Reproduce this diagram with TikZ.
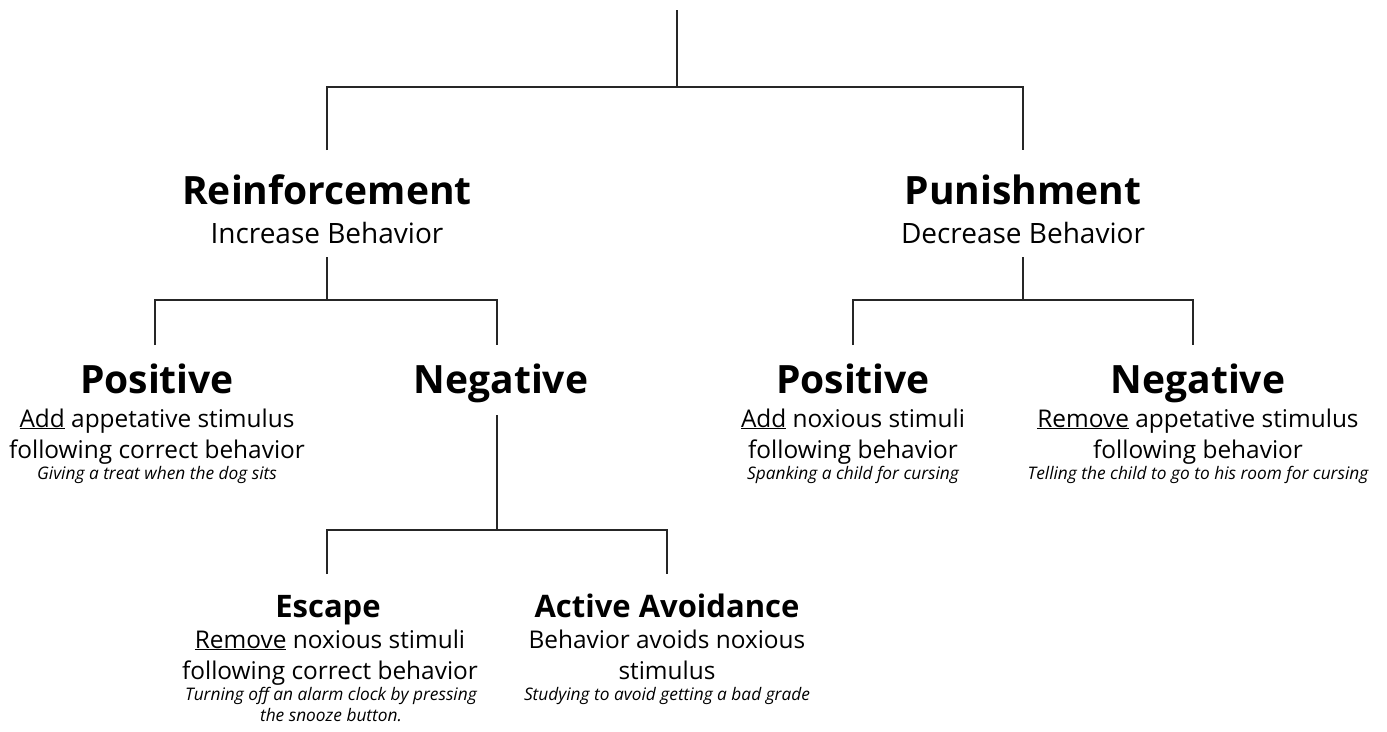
\documentclass[tikz,border=0pt]{standalone}
\usepackage{fontspec}
\setmainfont{Open Sans}
\newcommand{\fsz}[1]{\fontsize{#1}{#1}\selectfont}
\tikzset{
  conn/.style={draw=black!85, line width=2pt},
  ttl/.style={anchor=base, inner sep=0pt, font=\fsz{39}\bfseries},
  subttl/.style={anchor=base, inner sep=0pt, font=\fsz{31}\bfseries},
  sub/.style={anchor=base, inner sep=0pt, font=\fsz{28}},
  txt/.style={anchor=base, inner sep=0pt, font=\fsz{24.4}},
  ex/.style={anchor=base, inner sep=0pt, font=\fsz{17.3}\itshape}
}
\begin{document}
\begin{tikzpicture}[x=1pt,y=-1pt]
\useasboundingbox (0,0) rectangle (1387,731);
% top level
\coordinate (top) at (677,10);
\coordinate (j0) at (677,87);
\coordinate (j0l) at (327,87);
\coordinate (j0r) at (1023,87);
\coordinate (reinIn) at (327,150);
\coordinate (punIn) at (1023,150);
\node[ttl] (rein) at (327,204) {Reinforcement};
\node[sub] (reinSub) at (327,243) {Increase Behavior};
\node[ttl] (pun) at (1023,204) {Punishment};
\node[sub] (punSub) at (1023,243) {Decrease Behavior};
\draw[conn] (top) -- (j0);
\draw[conn] (reinIn) -- (j0l) -- (j0r) -- (punIn);
% reinforcement branch
\coordinate (reinOut) at (327,257);
\coordinate (j1) at (327,300);
\coordinate (j1l) at (155,300);
\coordinate (j1r) at (497,300);
\coordinate (rposIn) at (155,345);
\coordinate (rnegIn) at (497,345);
\draw[conn] (reinOut) -- (j1);
\draw[conn] (rposIn) -- (j1l) -- (j1r) -- (rnegIn);
\node[ttl] (rpos) at (157,393) {Positive};
\node[txt] (rpos1) at (157,427) {\underline{Add} appetative stimulus};
\node[txt] (rpos2) at (157,458) {following correct behavior};
\node[ex] (rpos3) at (157,479) {Giving a treat when the dog sits};
\node[ttl] (rneg) at (501,393) {Negative};
% negative reinforcement branch
\coordinate (rnegOut) at (497,415);
\coordinate (j2) at (497,530);
\coordinate (j2l) at (327,530);
\coordinate (j2r) at (667,530);
\coordinate (escIn) at (327,574);
\coordinate (avIn) at (667,574);
\draw[conn] (rnegOut) -- (j2);
\draw[conn] (escIn) -- (j2l) -- (j2r) -- (avIn);
\node[subttl] (esc) at (328,617) {Escape};
\node[txt] (esc1) at (330,648) {\underline{Remove} noxious stimuli};
\node[txt] (esc2) at (330,679) {following correct behavior};
\node[ex] (esc3) at (331,700) {Turning off an alarm clock by pressing};
\node[ex] (esc4) at (331,721) {the snooze button.};
\node[subttl] (av) at (667,617) {Active Avoidance};
\node[txt] (av1) at (667,648) {Behavior avoids noxious};
\node[txt] (av2) at (667,679) {stimulus};
\node[ex] (av3) at (667,700) {Studying to avoid getting a bad grade};
% punishment branch
\coordinate (punOut) at (1023,257);
\coordinate (j3) at (1023,300);
\coordinate (j3l) at (853,300);
\coordinate (j3r) at (1193,300);
\coordinate (pposIn) at (853,345);
\coordinate (pnegIn) at (1193,345);
\draw[conn] (punOut) -- (j3);
\draw[conn] (pposIn) -- (j3l) -- (j3r) -- (pnegIn);
\node[ttl] (ppos) at (853,393) {Positive};
\node[txt] (ppos1) at (853,427) {\underline{Add} noxious stimuli};
\node[txt] (ppos2) at (853,458) {following behavior};
\node[ex] (ppos3) at (853,479) {Spanking a child for cursing};
\node[ttl] (pneg) at (1198,393) {Negative};
\node[txt] (pneg1) at (1198,427) {\underline{Remove} appetative stimulus};
\node[txt] (pneg2) at (1198,458) {following behavior};
\node[ex] (pneg3) at (1198,479) {Telling the child to go to his room for cursing};
\end{tikzpicture}
\end{document}
